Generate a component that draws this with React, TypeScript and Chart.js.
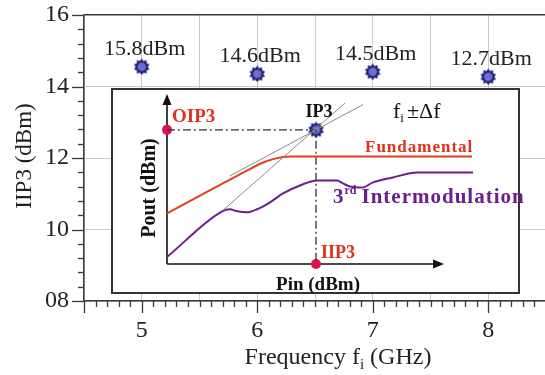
import React, { useEffect, useRef } from 'react';
import { Chart, registerables } from 'chart.js';

Chart.register(...registerables);

// ---- main chart data ----
const frequencyGHz = [5, 6, 7, 8];
const iip3dBm = [14.55, 14.35, 14.41, 14.27];
const valueLabels = ['15.8dBm', '14.6dBm', '14.5dBm', '12.7dBm'];

// ---- inset (schematic) data, arbitrary Pin / Pout units ----
const fundamentalPin = [0, 18.1, 28.2, 34.3, 39.0, 44.4, 51.6, 110.1];
const fundamentalPout = [29.8, 45.6, 54.4, 59.4, 62.0, 63.2, 63.3, 63.3];
const im3Pin = [0, 19.9, 22.7, 25.3, 28.9, 32.5, 37.2, 41.9, 48.0, 54.2, 61.4, 63.5, 66.1, 70.4, 74.4, 81.6, 90.3, 110.5];
const im3Pout = [4.1, 31.0, 32.2, 31.0, 30.4, 32.2, 36.3, 41.5, 46.2, 49.1, 49.1, 47.4, 45.6, 45.0, 48.0, 50.9, 53.8, 53.8];
const fundAsymptotePin = [22.7, 70.8];
const fundAsymptotePout = [51.8, 93.8];
const im3AsymptotePin = [20.2, 64.3];
const im3AsymptotePout = [31.6, 94.7];
const ip3Pin = 53.8;
const ip3Pout = 78.9;

const serif = "'Liberation Serif', 'Times New Roman', serif";
const axisColor = '#3a3a3a';
const gridColor = '#c9c9c9';
const redText = '#e0301e';
const redLine = '#e2401c';
const purple = '#6a1f8c';
const dotColor = '#e0124f';

function makeStar(size: number): HTMLCanvasElement {
  const c = document.createElement('canvas');
  c.width = size;
  c.height = size;
  const ctx = c.getContext('2d')!;
  const cx = size / 2, cy = size / 2;
  const R = size / 2 - 0.3, r = R * 0.74, n = 10;
  ctx.beginPath();
  for (let i = 0; i < 2 * n; i++) {
    const a = (i * Math.PI) / n - Math.PI / 2;
    const rad = i % 2 === 0 ? R : r;
    ctx.lineTo(cx + rad * Math.cos(a), cy + rad * Math.sin(a));
  }
  ctx.closePath();
  ctx.fillStyle = '#1d1f78';
  ctx.fill();
  ctx.beginPath();
  ctx.arc(cx, cy, r * 0.7, 0, Math.PI * 2);
  ctx.fillStyle = '#6c6fd2';
  ctx.fill();
  return c;
}

const zip = (xs: number[], ys: number[]) => xs.map((x, i) => ({ x, y: ys[i] }));

export default function App() {
  const mainRef = useRef<HTMLCanvasElement>(null);
  const insetRef = useRef<HTMLCanvasElement>(null);

  useEffect(() => {
    const star = makeStar(17);

    const mainDecor = {
      id: 'mainDecor',
      afterDraw(chart: any) {
        const { ctx } = chart;
        const x = chart.scales.x, y = chart.scales.y;
        ctx.save();
        ctx.strokeStyle = axisColor;
        ctx.lineWidth = 1.3;
        for (let k = 45; k <= 85; k++) {
          const px = Math.round(x.getPixelForValue(k / 10)) + 0.5;
          const major = k % 10 === 0 || k === 45;
          ctx.beginPath();
          ctx.moveTo(px, y.bottom);
          ctx.lineTo(px, y.bottom + (major ? 12 : 6));
          ctx.stroke();
        }
        for (let k = 0; k <= 20; k++) {
          const py = Math.round(y.getPixelForValue(8 + k * 0.4)) + 0.5;
          const major = k % 5 === 0;
          ctx.beginPath();
          ctx.moveTo(x.left, py);
          ctx.lineTo(x.left - (major ? 12 : 6), py);
          ctx.stroke();
        }
        // value labels
        ctx.font = `22px ${serif}`;
        ctx.fillStyle = '#222';
        ctx.textAlign = 'center';
        ctx.textBaseline = 'alphabetic';
        const meta = chart.getDatasetMeta(0);
        meta.data.forEach((el: any, i: number) => {
          ctx.fillText(valueLabels[i], el.x + 3, el.y - 12);
        });
        // x title with subscript
        const big = `24px ${serif}`, small = `15px ${serif}`;
        const p1 = 'Frequency f', p2 = 'i', p3 = ' (GHz)';
        ctx.font = big; const w1 = ctx.measureText(p1).width; const w3 = ctx.measureText(p3).width;
        ctx.font = small; const w2 = ctx.measureText(p2).width;
        let sx = 338 - (w1 + w2 + w3) / 2;
        const base = 364;
        ctx.textAlign = 'left';
        ctx.font = big; ctx.fillText(p1, sx, base); sx += w1;
        ctx.font = small; ctx.fillText(p2, sx, base + 5); sx += w2;
        ctx.font = big; ctx.fillText(p3, sx, base);
        // y title
        ctx.save();
        ctx.translate(25, 156);
        ctx.rotate(-Math.PI / 2);
        ctx.textAlign = 'center';
        ctx.textBaseline = 'middle';
        ctx.font = `23px ${serif}`;
        ctx.fillText('IIP3 (dBm)', 0, 0);
        ctx.restore();
        ctx.restore();
      },
    };

    const main = new Chart(mainRef.current!, {
      type: 'scatter',
      data: {
        datasets: [
          {
            data: zip(frequencyGHz, iip3dBm),
            pointStyle: star as any,
            pointRadius: 8,
            showLine: false,
            clip: false as any,
          },
        ],
      },
      options: {
        animation: false,
        responsive: false,
        devicePixelRatio: 1,
        layout: { padding: { top: 15, right: 0, left: 0, bottom: 0 } },
        plugins: { legend: { display: false }, tooltip: { enabled: false } },
        scales: {
          x: {
            type: 'linear',
            min: 4.5,
            max: 8.5,
            afterFit: (s: any) => { s.height = 74; s.paddingLeft = 0; s.paddingRight = 0; },
            border: { display: true, color: axisColor, width: 1.5 },
            grid: { color: gridColor, lineWidth: 1, drawTicks: false },
            ticks: {
              stepSize: 0.5,
              autoSkip: false,
              maxRotation: 0,
              padding: 15,
              color: '#222',
              font: { family: serif, size: 24 },
              callback: (v: any) => (Number.isInteger(Number(v)) ? String(v) : ''),
            },
          },
          y: {
            type: 'linear',
            min: 8,
            max: 16,
            afterFit: (s: any) => { s.width = 84; s.paddingTop = 0; s.paddingBottom = 0; },
            border: { display: true, color: axisColor, width: 1.5 },
            grid: {
              color: (c: any) => (c.tick && c.tick.value === 16 ? axisColor : gridColor),
              lineWidth: (c: any) => (c.tick && c.tick.value === 16 ? 1.5 : 1),
              drawTicks: false,
            },
            ticks: {
              stepSize: 2,
              padding: 15,
              color: '#222',
              font: { family: serif, size: 24 },
              callback: (v: any) => String(v).padStart(2, '0'),
            },
          },
        },
      },
      plugins: [mainDecor],
    });

    const insetDecor = {
      id: 'insetDecor',
      beforeDraw(chart: any) {
        const { ctx } = chart;
        ctx.save();
        ctx.fillStyle = '#fff';
        ctx.fillRect(12, 4, 407, 204);
        ctx.strokeStyle = '#333';
        ctx.lineWidth = 2;
        ctx.strokeRect(12, 4, 407, 204);
        ctx.restore();
      },
      beforeDatasetsDraw(chart: any) {
        const { ctx } = chart;
        const x = chart.scales.x, y = chart.scales.y;
        const ox = x.getPixelForValue(0), oy = y.getPixelForValue(0);
        const xt = x.getPixelForValue(100), yt = y.getPixelForValue(100);
        ctx.save();
        ctx.strokeStyle = '#111';
        ctx.fillStyle = '#111';
        ctx.lineWidth = 1.6;
        ctx.beginPath();
        ctx.moveTo(ox, oy);
        ctx.lineTo(xt - 8, oy);
        ctx.moveTo(ox, oy);
        ctx.lineTo(ox, yt + 8);
        ctx.stroke();
        ctx.beginPath();
        ctx.moveTo(xt, oy);
        ctx.lineTo(xt - 11, oy - 4.5);
        ctx.lineTo(xt - 11, oy + 4.5);
        ctx.closePath();
        ctx.fill();
        ctx.beginPath();
        ctx.moveTo(ox, yt);
        ctx.lineTo(ox - 4.5, yt + 11);
        ctx.lineTo(ox + 4.5, yt + 11);
        ctx.closePath();
        ctx.fill();
        ctx.restore();
      },
      afterDatasetsDraw(chart: any) {
        const { ctx } = chart;
        ctx.save();
        ctx.textBaseline = 'alphabetic';
        ctx.textAlign = 'left';
        // OIP3
        ctx.fillStyle = redText;
        ctx.font = `bold 19px ${serif}`;
        ctx.fillText('OIP3', 72, 37);
        // IIP3
        ctx.font = `bold 18px ${serif}`;
        ctx.fillText('IIP3', 221, 173);
        // Fundamental
        ctx.font = `bold 17px ${serif}`;
        (ctx as any).letterSpacing = '1px';
        ctx.fillText('Fundamental', 265, 67);
        // 3rd Intermodulation
        ctx.fillStyle = purple;
        ctx.font = `bold 21px ${serif}`;
        (ctx as any).letterSpacing = '0px';
        let sx = 233;
        ctx.fillText('3', sx, 118);
        sx += ctx.measureText('3').width + 1;
        ctx.font = `bold 12px ${serif}`;
        ctx.fillText('rd', sx, 109);
        sx += ctx.measureText('rd').width + 5;
        ctx.font = `bold 21px ${serif}`;
        (ctx as any).letterSpacing = '1px';
        ctx.fillText('Intermodulation', sx, 118);
        (ctx as any).letterSpacing = '0px';
        // IP3
        ctx.fillStyle = '#111';
        ctx.textAlign = 'center';
        ctx.font = `bold 18px ${serif}`;
        ctx.fillText('IP3', 219, 32);
        // f_i ± Δf
        ctx.textAlign = 'left';
        let fx = 293;
        ctx.font = `22px ${serif}`;
        ctx.fillText('f', fx, 33);
        fx += ctx.measureText('f').width;
        ctx.font = `13px ${serif}`;
        ctx.fillText('i', fx, 37);
        fx += ctx.measureText('i').width + 3;
        ctx.font = `22px ${serif}`;
        ctx.fillText('\u00B1\u0394f', fx, 33);
        // Pin (dBm)
        ctx.textAlign = 'center';
        ctx.textBaseline = 'middle';
        ctx.font = `bold 19px ${serif}`;
        ctx.fillText('Pin (dBm)', 218, 200);
        // Pout (dBm)
        ctx.save();
        ctx.translate(50, 103);
        ctx.rotate(-Math.PI / 2);
        ctx.font = `bold 20px ${serif}`;
        ctx.fillText('Pout (dBm)', 0, 0);
        ctx.restore();
        ctx.restore();
      },
    };

    const inset = new Chart(insetRef.current!, {
      type: 'scatter',
      data: {
        datasets: [
          {
            data: zip(im3AsymptotePin, im3AsymptotePout),
            showLine: true, borderColor: '#8a8a8a', borderWidth: 1, pointRadius: 0, clip: false as any,
          },
          {
            data: zip(fundAsymptotePin, fundAsymptotePout),
            showLine: true, borderColor: '#8a8a8a', borderWidth: 1, pointRadius: 0, clip: false as any,
          },
          {
            data: zip(fundamentalPin, fundamentalPout),
            showLine: true, borderColor: redLine, borderWidth: 2, pointRadius: 0,
            cubicInterpolationMode: 'monotone', clip: false as any,
          },
          {
            data: zip(im3Pin, im3Pout),
            showLine: true, borderColor: purple, borderWidth: 2, pointRadius: 0,
            cubicInterpolationMode: 'monotone', clip: false as any,
          },
          {
            data: [{ x: 0, y: ip3Pout }, { x: ip3Pin, y: ip3Pout }, { x: ip3Pin, y: 0 }],
            showLine: true, borderColor: '#333', borderWidth: 1.3, borderDash: [8, 3, 2, 3],
            pointRadius: 0, clip: false as any,
          },
          {
            data: [{ x: 0, y: ip3Pout }, { x: ip3Pin, y: 0 }],
            showLine: false, pointRadius: 5, backgroundColor: dotColor, borderWidth: 0,
            pointBorderWidth: 0, clip: false as any,
          },
          {
            data: [{ x: ip3Pin, y: ip3Pout }],
            showLine: false, pointStyle: star as any, pointRadius: 8, clip: false as any,
          },
        ],
      },
      options: {
        animation: false,
        responsive: false,
        devicePixelRatio: 1,
        layout: { padding: { left: 67, right: 45.6, top: 8, bottom: 36 } },
        plugins: { legend: { display: false }, tooltip: { enabled: false } },
        scales: {
          x: { type: 'linear', display: false, min: 0, max: 120 },
          y: { type: 'linear', display: false, min: 0, max: 100 },
        },
      },
      plugins: [insetDecor],
    });

    return () => {
      main.destroy();
      inset.destroy();
    };
  }, []);

  return (
    <div style={{ position: 'absolute', left: 0, top: 0, width: 545, height: 375, overflow: 'hidden', background: '#fff' }}>
      <canvas ref={mainRef} width={555} height={375} style={{ position: 'absolute', left: 0, top: 0 }} />
      <canvas ref={insetRef} width={445} height={215} style={{ position: 'absolute', left: 100, top: 85 }} />
    </div>
  );
}
